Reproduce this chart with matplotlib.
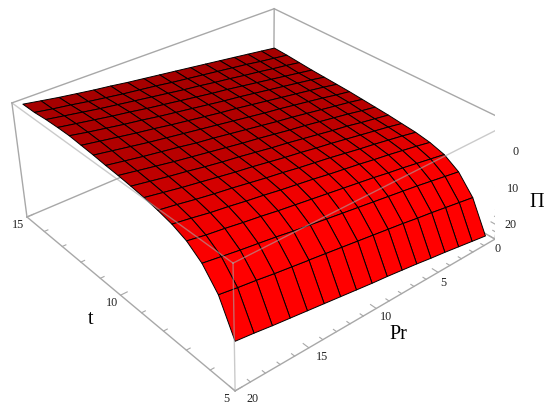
"""
Surface of Pi over Pr and t, mesh read off the picture.
"""
import numpy as np
import matplotlib
matplotlib.use('Agg')
import matplotlib.pyplot as plt
from mpl_toolkits.mplot3d import proj3d

plt.rcParams['font.family'] = ['Liberation Serif', 'DejaVu Serif']

t_lines = [5.0, 5.64, 6.28, 6.9, 7.51, 8.12, 8.73, 9.33, 9.93, 10.53, 11.14, 11.76, 12.38, 13.01, 13.66, 14.32, 15.0]
pr_front = [0.98, 2.19, 3.39, 4.58, 5.76, 6.94, 8.12, 9.3, 10.47, 11.65, 12.82, 14.0, 15.18, 16.36, 17.55, 18.75, 19.95]
pr_back = [-0.04, 1.13, 2.32, 3.51, 4.72, 5.93, 7.14, 8.36, 9.59, 10.81, 12.04, 13.27, 14.49, 15.71, 16.92, 18.13, 19.32]
pi_values = [
    [21.3, 20.6, 19.9, 19.2, 18.6, 17.9, 17.3, 16.7, 16.2, 15.6, 15.0, 14.4, 13.8, 13.2, 12.6, 11.9, 11.3],
    [13.3, 12.6, 11.9, 11.2, 10.6, 9.9, 9.3, 8.7, 8.1, 7.5, 6.9, 6.3, 5.7, 5.1, 4.4, 3.8, 3.1],
    [8.8, 8.1, 7.4, 6.7, 6.1, 5.5, 4.9, 4.3, 3.7, 3.1, 2.5, 1.9, 1.2, 0.6, -0.0, -0.7, -1.4],
    [6.5, 5.8, 5.1, 4.4, 3.8, 3.1, 2.5, 1.9, 1.3, 0.7, 0.1, -0.5, -1.2, -1.8, -2.5, -3.1, -3.9],
    [5.5, 4.7, 4.0, 3.3, 2.7, 2.0, 1.4, 0.8, 0.1, -0.5, -1.1, -1.8, -2.4, -3.1, -3.7, -4.5, -5.2],
    [5.0, 4.2, 3.5, 2.8, 2.2, 1.5, 0.8, 0.2, -0.4, -1.1, -1.7, -2.4, -3.1, -3.7, -4.4, -5.2, -5.9],
    [4.8, 4.0, 3.3, 2.6, 1.9, 1.2, 0.6, -0.1, -0.7, -1.4, -2.1, -2.7, -3.4, -4.1, -4.8, -5.6, -6.4],
    [4.6, 3.9, 3.2, 2.4, 1.8, 1.1, 0.4, -0.3, -0.9, -1.6, -2.3, -2.9, -3.6, -4.4, -5.1, -5.9, -6.7],
    [4.5, 3.8, 3.0, 2.3, 1.6, 0.9, 0.3, -0.4, -1.1, -1.7, -2.4, -3.1, -3.8, -4.5, -5.3, -6.1, -6.9],
    [4.4, 3.6, 2.9, 2.2, 1.5, 0.8, 0.2, -0.5, -1.2, -1.9, -2.6, -3.2, -4.0, -4.7, -5.4, -6.2, -7.0],
    [4.3, 3.6, 2.8, 2.1, 1.4, 0.7, 0.1, -0.6, -1.3, -2.0, -2.7, -3.4, -4.1, -4.8, -5.6, -6.4, -7.2],
    [4.3, 3.5, 2.8, 2.1, 1.4, 0.7, 0.0, -0.7, -1.3, -2.0, -2.7, -3.4, -4.2, -4.9, -5.7, -6.5, -7.3],
    [4.3, 3.5, 2.8, 2.1, 1.4, 0.7, 0.0, -0.6, -1.3, -2.0, -2.7, -3.4, -4.2, -4.9, -5.7, -6.5, -7.4],
    [4.3, 3.6, 2.9, 2.2, 1.5, 0.8, 0.1, -0.5, -1.2, -1.9, -2.6, -3.3, -4.1, -4.8, -5.6, -6.4, -7.2],
    [4.2, 3.5, 2.9, 2.2, 1.6, 0.9, 0.3, -0.4, -1.0, -1.7, -2.4, -3.1, -3.8, -4.5, -5.3, -6.1, -6.9],
    [4.1, 3.5, 2.9, 2.2, 1.6, 1.0, 0.4, -0.2, -0.8, -1.5, -2.1, -2.7, -3.4, -4.1, -4.9, -5.6, -6.4],
    [4.1, 3.5, 2.9, 2.3, 1.7, 1.1, 0.5, -0.1, -0.7, -1.3, -1.9, -2.6, -3.2, -3.9, -4.6, -5.4, -6.2],
]
row_red = [255, 255, 250, 240, 225, 212, 200, 190, 184, 180, 177, 174, 172, 170, 168, 166]

t_major = [5, 10, 15]
pr_major = [0, 5, 10, 15, 20]
pi_major = [0, 10, 20]

W, H = 550, 411
PR_LIM = (20, 0)
T_LIM = (5, 15)
PI_LIM = (24, -7.5)
BOX = '#a8a8a8'

fig = plt.figure(figsize=(W/100, H/100), dpi=100)
ax = fig.add_subplot(111, projection='3d', computed_zorder=False)
ax.view_init(32.442, -130.261, 0.107)
ax.set_proj_type('persp', focal_length=0.437)
ax.set_box_aspect((2.508, 2.519, 1))

# scale and offset found by fitting the box corners to the picture
s, tx, ty = 2640.89, 257.48, 172.13
vl = ax.viewLim
left = tx + s*vl.x0
right = tx + s*vl.x1
top = ty - s*vl.y1
bottom = ty - s*vl.y0
ax.set_position([left/W, 1 - bottom/H, (right - left)/W, (bottom - top)/H])

row_frac = np.arange(17)/16.
X = np.outer(1 - row_frac, pr_front) + np.outer(row_frac, pr_back)
Y = np.repeat(np.array(t_lines)[:, None], 17, axis=1)
Z = np.array(pi_values)

colors = np.zeros((16, 16, 4))
colors[:, :, 0] = np.array(row_red)[:, None]/255.
colors[:, :, 3] = 1

zt, zb = PI_LIM[1], PI_LIM[0]


def edge(a, b, z=1, **kw):
    ax.plot([a[0], b[0]], [a[1], b[1]], [a[2], b[2]], color=BOX, lw=1, zorder=z, **kw)


ax.plot_surface(X, Y, Z, rstride=1, cstride=1, facecolors=colors, shade=False,
                edgecolor='k', linewidth=0.7, zorder=2)

# box edges behind the surface
edge((0, 15, zt), (20, 15, zt))
edge((0, 15, zt), (0, 5, zt))
edge((0, 15, zt), (0, 15, zb))
edge((20, 15, zt), (20, 15, zb))
edge((0, 5, zt), (0, 5, zb))
edge((0, 15, zb), (20, 15, zb))
edge((0, 15, zb), (0, 5, zb))
edge((20, 15, zb), (20, 5, zb))
edge((0, 5, zb), (20, 5, zb))

# box edges in front of it
edge((20, 15, zt), (20, 5, zt), z=3, alpha=.6)
edge((0, 5, zt), (20, 5, zt), z=3, alpha=.6)
edge((20, 5, zt), (20, 5, zb), z=3, alpha=.6)

for v in range(5, 16):
    d = .45 if v in t_major else .25
    ax.plot([20, 20 - d], [v, v], [zb, zb], color=BOX, lw=.8, zorder=1)
for v in range(0, 21):
    d = .22 if v in pr_major else .12
    ax.plot([v, v], [5, 5 + d], [zb, zb], color=BOX, lw=.8, zorder=1)
for v in range(-6, 24, 2):
    d = .22 if v in pi_major else .12
    ax.plot([0, 0], [5, 5 + d], [v, v], color=BOX, lw=.8, zorder=1)

ax.set_xlim(*PR_LIM)
ax.set_ylim(*T_LIM)
ax.set_zlim(*PI_LIM)
ax.set_axis_off()

M = ax.get_proj()


def tick_label(a, b, c, text, dx, dy):
    u, v, _ = proj3d.proj_transform(a, b, c, M)
    ax.annotate(text, (u, v), xytext=(dx, dy), textcoords='offset pixels',
                ha='center', va='center', fontsize=8.7, color='#222222',
                annotation_clip=False)


for v in t_major:
    tick_label(20, v, zb, str(v), -9, -8)
for v, dx, dy in zip(pr_major, [3, 5.5, 10, 13.5, 17], [-10, -11, -9, -9, -8]):
    tick_label(v, 5, zb, str(v), dx, dy)
for v in pi_major:
    tick_label(0, 5, v, str(v), 9 + v*.25, 0)

fig.text(91/W, 1 - 319/H, 't', fontsize=14.5, ha='center', va='center')
fig.text(398/W, 1 - 334/H, 'Pr', fontsize=14.5, ha='center', va='center')
fig.text(537/W, 1 - 202/H, 'Π', fontsize=14.5, ha='center', va='center')

fig.savefig('out.png', dpi=100)
